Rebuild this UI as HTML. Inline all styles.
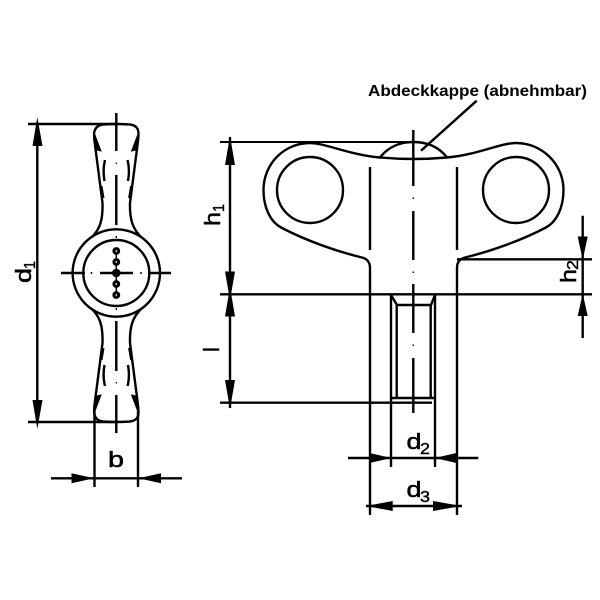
<!DOCTYPE html>
<html>
<head>
<meta charset="utf-8">
<style>
html,body{margin:0;padding:0;background:#fff;width:600px;height:600px;overflow:hidden}
svg{display:block}
text{font-family:"Liberation Sans",sans-serif;fill:#000}
</style>
</head>
<body>
<svg width="600" height="600" viewBox="0 0 600 600" xmlns="http://www.w3.org/2000/svg">
<rect width="600" height="600" fill="#fff"/>
<defs>
<g id="wing">
  <path d="M92,237 C100,229 103,220 102.5,203 L95,145 C94,138 93.5,132 95,130 C96,127 99,125 103,124.5 Q116.3,123.5 130,124.5 C134,125 137,127 138,130 C139,133 138.5,138 137.5,145 L130,203 C129.5,220 133,229 141,237" fill="none" stroke="#000" stroke-width="2.4"/>
  <path d="M95,135 L101,151 L97,150 Z" fill="#000" stroke="#000" stroke-width="1"/>
  <path d="M137.6,135 L131.6,151 L135.6,150 Z" fill="#000" stroke="#000" stroke-width="1"/>
  <path d="M105,160 Q102.5,170 104.5,181" stroke="#000" stroke-width="2.4" fill="none"/>
  <path d="M127.6,160 Q130,170 128,181" stroke="#000" stroke-width="2.4" fill="none"/>
  <path d="M101.5,186 L103.5,198 M131.1,186 L129.1,198" stroke="#000" stroke-width="2" fill="none"/>
  <path d="M116.3,113 V151 M116.3,175 V225" stroke="#000" stroke-width="2.4" fill="none"/>
  <path d="M116.3,162.5 V164 M116.3,236 V237.5" stroke="#000" stroke-width="1.2" fill="none"/>
</g>
</defs>

<!-- LEFT VIEW -->
<use href="#wing"/>
<use href="#wing" transform="translate(0,546) scale(1,-1)"/>
<circle cx="116.3" cy="273" r="43.7" fill="none" stroke="#000" stroke-width="2.4"/>
<circle cx="116.3" cy="273" r="33" fill="none" stroke="#000" stroke-width="2.4"/>
<path d="M61,273 H85 M100,273 H133 M149,273 H171" stroke="#000" stroke-width="2.4" fill="none"/>
<path d="M91.5,272 V274 M141,272 V274 M116.3,237 V238 M116.3,308 V309" stroke="#000" stroke-width="1.4" fill="none"/>
<path d="M116.3,251 V295" stroke="#000" stroke-width="1.5"/>
<g fill="#fff" stroke="#000" stroke-width="3">
  <circle cx="116.3" cy="251" r="2.4"/>
  <circle cx="116.3" cy="262" r="2.4"/>
  <circle cx="116.3" cy="284" r="2.4"/>
  <circle cx="116.3" cy="295" r="2.4"/>
</g>
<circle cx="116.3" cy="273" r="4.3" fill="#000"/>

<!-- Left dims -->
<path d="M28,124 H116 M28,422 H116" stroke="#000" stroke-width="2.4" fill="none"/>
<path d="M37.3,124 V422" stroke="#000" stroke-width="2.4" fill="none"/>
<path d="M37.3,117 L42.5,146 H32.5 Z M37.3,429 L42.5,400 H32.5 Z" fill="#000"/>
<path d="M94.5,411 V487 M138,411 V487" stroke="#000" stroke-width="2.4" fill="none"/>
<path d="M51,478.3 H182" stroke="#000" stroke-width="2.4" fill="none"/>
<path d="M94,478.3 L71.5,473.3 V483.3 Z M138.5,478.3 L161,473.3 V483.3 Z" fill="#000"/>

<!-- RIGHT VIEW -->
<path d="M370,515 V268 Q370,259.5 362,257.5 C335,251 305,240 282,228 C270,222 263.5,207 263.5,190 C263.5,164 284,143 310,143 C325,143 350,155 380,157.5 Q413,160.5 447,157.5 C477,155 500,143 516,143 C542,143 563.5,164 563.5,190 C563.5,207 557,222 545,228 C522,240 492,251 465,257.5 Q457,259.5 457,268 V515" fill="none" stroke="#000" stroke-width="2.4"/>
<circle cx="310" cy="190" r="33" fill="none" stroke="#000" stroke-width="2.4"/>
<circle cx="516" cy="190" r="33" fill="none" stroke="#000" stroke-width="2.4"/>
<path d="M380,157.5 C388,147 400,142 413.3,142 C427,142 439,147 447,157.5" fill="none" stroke="#000" stroke-width="2.4"/>
<path d="M370,167 V250 M457,167 V250" stroke="#000" stroke-width="2.4" fill="none"/>
<path d="M476.7,100.7 L421,150.7" stroke="#000" stroke-width="2.4" fill="none"/>
<path d="M413.3,130 V186 M413.3,211 V260 M413.3,284 V333 M413.3,358 V413" stroke="#000" stroke-width="2.4" fill="none"/>
<path d="M413.3,197.5 V199 M413.3,271.5 V273 M413.3,344.5 V346" stroke="#000" stroke-width="1.4" fill="none"/>

<!-- Thread -->
<path d="M391,294 V467 M435,294 V467" stroke="#000" stroke-width="2.4" fill="none"/>
<path d="M396.7,305 V398 M430.7,305 V398" stroke="#000" stroke-width="2.4" fill="none"/>
<path d="M391,295 L397,305 H431 L435,295 M391,398 H435" fill="none" stroke="#000" stroke-width="2.4"/>

<!-- Right dims -->
<path d="M220,142 H410" stroke="#000" stroke-width="2" fill="none"/>
<path d="M220,294.3 H592" stroke="#000" stroke-width="2.4" fill="none"/>
<path d="M220,402.7 H432" stroke="#000" stroke-width="2.4" fill="none"/>
<path d="M457,259.3 H592" stroke="#000" stroke-width="2.4" fill="none"/>
<path d="M230,137 V408" stroke="#000" stroke-width="2.4" fill="none"/>
<path d="M230,136 L235,165 H225 Z M230,300 L235,271.5 H225 Z M230,287 L235,316.5 H225 Z M230,409 L235,380 H225 Z" fill="#000"/>
<path d="M582.7,215.7 V338" stroke="#000" stroke-width="2.4" fill="none"/>
<path d="M582.7,260 L587.7,236.5 H577.7 Z M582.7,293.5 L587.7,316 H577.7 Z" fill="#000"/>
<path d="M348,458 H478.3" stroke="#000" stroke-width="2.4" fill="none"/>
<path d="M391,458 L369.5,453 V463 Z M434.5,458 L456.5,453 V463 Z" fill="#000"/>
<path d="M366,506 H462" stroke="#000" stroke-width="2.4" fill="none"/>
<path d="M366,506 L392.7,501 V511 Z M461.5,506 L433,501 V511 Z" fill="#000"/>

<!-- Labels -->
<text x="368" y="96" font-size="16" font-weight="bold" textLength="219" lengthAdjust="spacingAndGlyphs">Abdeckkappe (abnehmbar)</text>
<text x="108" y="467" font-size="22" stroke="#000" stroke-width="0.5" textLength="16" lengthAdjust="spacingAndGlyphs">b</text>
<text x="406.5" y="449" font-size="22" stroke="#000" stroke-width="0.5" textLength="15" lengthAdjust="spacingAndGlyphs">d</text>
<text x="420" y="454" font-size="16" stroke="#000" stroke-width="0.4" textLength="10" lengthAdjust="spacingAndGlyphs">2</text>
<text x="406.5" y="497" font-size="22" stroke="#000" stroke-width="0.5" textLength="15" lengthAdjust="spacingAndGlyphs">d</text>
<text x="420" y="502" font-size="16" stroke="#000" stroke-width="0.4" textLength="10" lengthAdjust="spacingAndGlyphs">3</text>
<g transform="translate(31,283) rotate(-90)">
  <text x="0" y="0" font-size="22" stroke="#000" stroke-width="0.5" textLength="15" lengthAdjust="spacingAndGlyphs">d</text>
  <text x="14" y="4" font-size="16" stroke="#000" stroke-width="0.4" textLength="8" lengthAdjust="spacingAndGlyphs">1</text>
</g>
<g transform="translate(220,226) rotate(-90)">
  <text x="0" y="0" font-size="22" stroke="#000" stroke-width="0.5" textLength="14" lengthAdjust="spacingAndGlyphs">h</text>
  <text x="14" y="4" font-size="16" stroke="#000" stroke-width="0.4" textLength="8" lengthAdjust="spacingAndGlyphs">1</text>
</g>
<g transform="translate(578,283) rotate(-90)">
  <text x="0" y="-2" font-size="22" stroke="#000" stroke-width="0.5" textLength="14" lengthAdjust="spacingAndGlyphs">h</text>
  <text x="13" y="0" font-size="16" stroke="#000" stroke-width="0.4" textLength="10" lengthAdjust="spacingAndGlyphs">2</text>
</g>
<g transform="translate(219,352) rotate(-90)">
  <text x="0" y="0" font-size="22" stroke="#000" stroke-width="0.5">l</text>
</g>
</svg>
</body>
</html>
